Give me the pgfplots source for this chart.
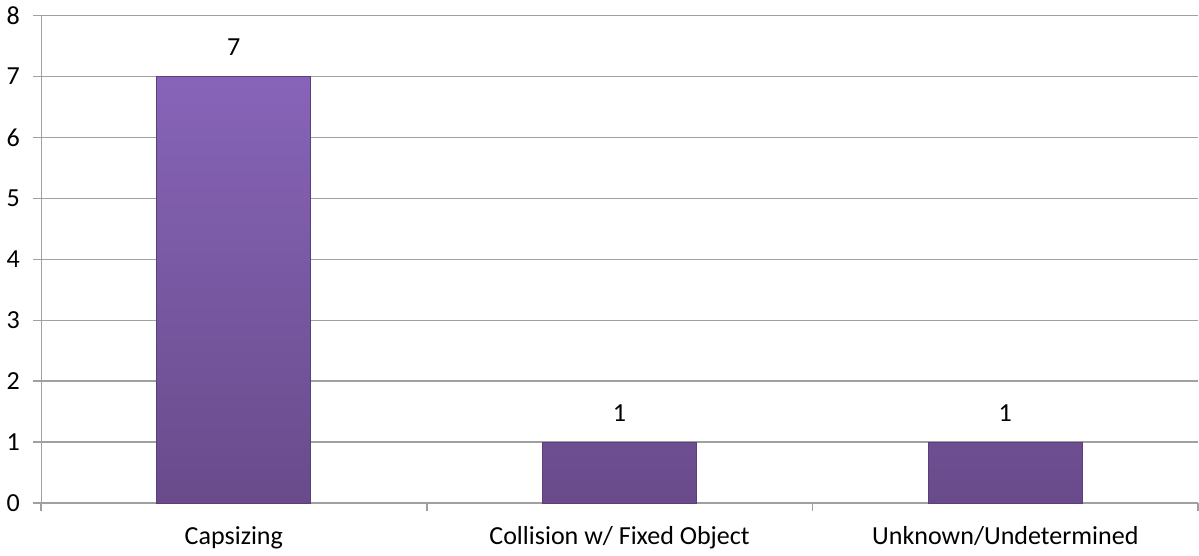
\documentclass[border=0pt]{standalone}
\usepackage{pgfplots}
\pgfplotsset{compat=1.18}
\usepackage{fontspec}
\setmainfont{Carlito}
\definecolor{gridgray}{HTML}{A0A0A0}
\definecolor{bartop}{HTML}{8764B8}
\definecolor{barbot}{HTML}{694B8B}
\definecolor{baredge}{HTML}{5A3F7A}
\begin{document}
\begin{tikzpicture}
\begin{axis}[
    scale only axis,
    width=578pt,
    height=243.5pt,
    ymin=0, ymax=8,
    ytick={0,1,...,8},
    xmin=-0.5, xmax=2.5,
    xtick={0,1,2},
    xticklabels={Capsizing,Collision w/ Fixed Object,Unknown/Undetermined},
    minor xtick={-0.5,0.5,1.5,2.5},
    axis lines=left,
    axis line style={-,gridgray},
    ymajorgrids,
    grid style={gridgray,line width=0.8pt},
    tick align=outside,
    major tick length=4pt,
    minor tick length=4pt,
    major x tick style={draw=none},
    minor x tick style={gridgray,line width=0.8pt},
    major y tick style={gridgray,line width=0.8pt},
    /pgf/number format/assume math mode=true,
    font=\fontsize{13}{15}\selectfont,
    xticklabel style={yshift=-4pt},
    yticklabel style={xshift=-3pt},
    clip=false,
]
\addplot[ybar, bar width=0.4, draw=baredge, line width=0.5pt,
    top color=bartop, bottom color=barbot,
    nodes near coords,
    every node near coord/.append style={black,yshift=7pt}]
    coordinates {(0,7) (1,1) (2,1)};
\end{axis}
\end{tikzpicture}
\end{document}
